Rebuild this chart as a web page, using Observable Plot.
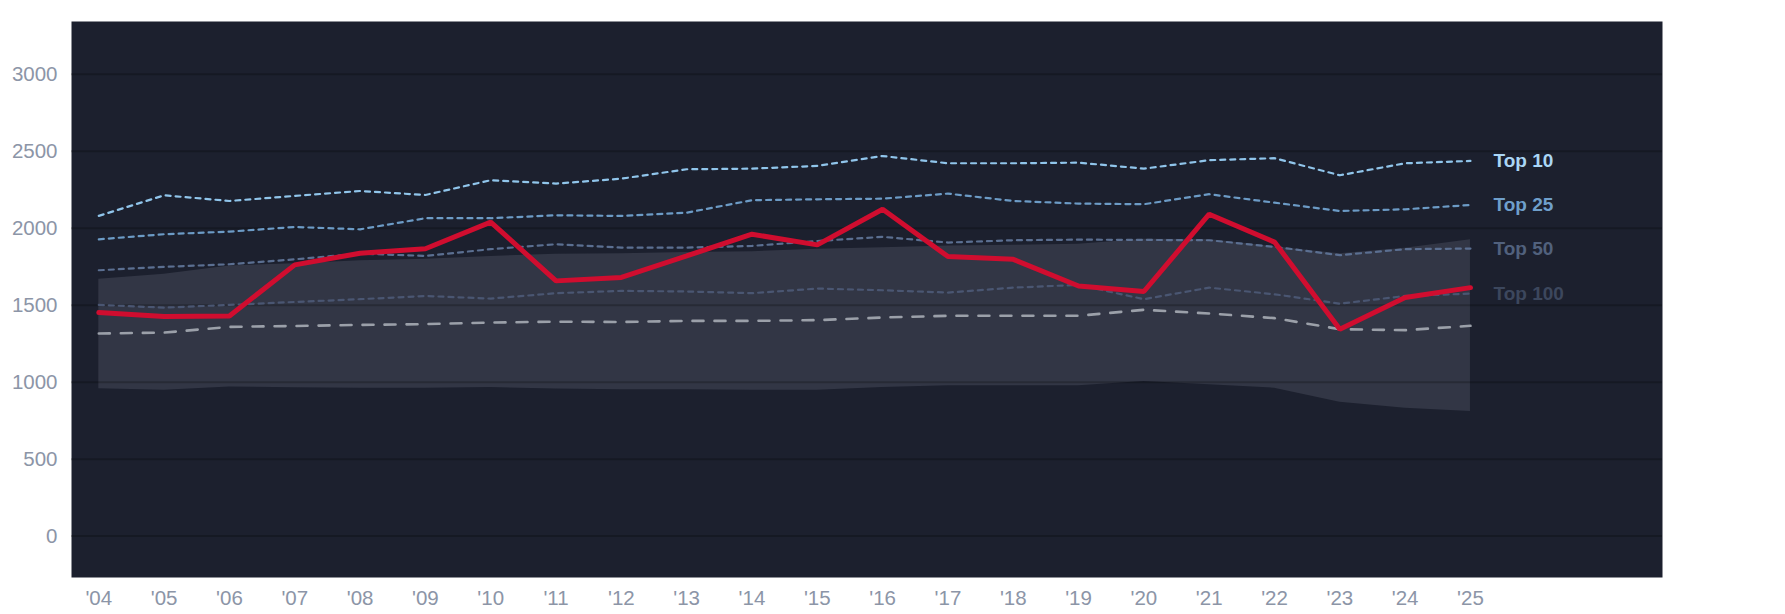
<!DOCTYPE html>
<html>
<head>
<meta charset="utf-8">
<script src="https://cdn.jsdelivr.net/npm/d3@7"></script>
<script src="https://cdn.jsdelivr.net/npm/@observablehq/plot@0.6"></script>
<style>
  html, body { margin: 0; padding: 0; background: #ffffff; }
  #chart svg { display: block; }
</style>
</head>
<body>
<div id="chart"></div>
<script>
const years = [2004,2005,2006,2007,2008,2009,2010,2011,2012,2013,2014,2015,2016,2017,2018,2019,2020,2021,2022,2023,2024,2025];
const top10  = [2080,2214,2177,2210,2242,2216,2312,2290,2322,2383,2387,2405,2469,2422,2422,2426,2387,2442,2455,2344,2422,2437];
const top25  = [1928,1961,1978,2008,1993,2065,2065,2084,2080,2101,2182,2188,2192,2225,2177,2160,2156,2221,2166,2112,2123,2151];
const top50  = [1727,1749,1766,1798,1835,1820,1864,1896,1874,1874,1885,1917,1944,1907,1922,1926,1924,1922,1879,1825,1864,1868];
const top100 = [1502,1484,1502,1521,1539,1560,1543,1578,1593,1589,1578,1608,1597,1582,1614,1632,1539,1614,1571,1510,1560,1575];
const median = [1316,1322,1359,1365,1372,1377,1387,1393,1391,1398,1398,1403,1420,1431,1431,1431,1470,1446,1416,1344,1338,1366];
const team   = [1452,1426,1430,1762,1838,1867,2040,1658,1680,1820,1961,1892,2123,1816,1798,1625,1589,2091,1910,1344,1550,1614];
const bandHigh = [1669,1701,1755,1770,1788,1798,1817,1831,1835,1842,1848,1864,1874,1885,1889,1896,1929,1926,1880,1835,1870,1925];
const bandLow  = [958,948,969,964,961,961,965,955,950,950,948,948,965,976,976,976,1004,983,961,870,831,809];
const yTicks = [0,500,1000,1500,2000,2500,3000];
const tierNames = ["Top 10","Top 25","Top 50","Top 100"];

const rows = years.map((year, i) => ({
  year, top10: top10[i], top25: top25[i], top50: top50[i], top100: top100[i],
  median: median[i], team: team[i], low: bandLow[i], high: bandHigh[i]
}));

const tiers = [
  {key: "top10",  name: tierNames[0], line: "#90c5eb", label: "#aad6f5"},
  {key: "top25",  name: tierNames[1], line: "#6c9bc6", label: "#6f9fcb"},
  {key: "top50",  name: tierNames[2], line: "#5b6f91", label: "#51617d"},
  {key: "top100", name: tierNames[3], line: "#4a5672", label: "#3c475d"}
];
const last = rows[rows.length - 1];
const font = "'Liberation Sans', Arial, Helvetica, sans-serif";

const chart = Plot.plot({
  width: 1785,
  height: 614,
  marginLeft: 71,
  marginRight: 123,
  marginTop: 21,
  marginBottom: 37,
  style: {background: "transparent", fontFamily: font},
  x: {domain: [2003.582, 2027.94], label: null},
  y: {domain: [-269, 3343], label: null},
  marks: [
    Plot.frame({fill: "#1c202e", stroke: "none"}),
    Plot.areaY(rows, {x: "year", y1: "low", y2: "high", fill: "#323645"}),
    Plot.ruleY(yTicks, {stroke: "#000000", strokeOpacity: 0.22, strokeWidth: 2}),
    ...tiers.slice().reverse().map(t =>
      Plot.lineY(rows, {x: "year", y: t.key, stroke: t.line, strokeWidth: 2.2, strokeDasharray: "5,5"})
    ),
    Plot.lineY(rows, {x: "year", y: "median", stroke: "#9ba0a9", strokeWidth: 2.6, strokeDasharray: "11,11"}),
    Plot.lineY(rows, {x: "year", y: "team", stroke: "#d00d2f", strokeWidth: 5, strokeLinejoin: "miter"}),
    ...tiers.map(t =>
      Plot.text([last], {x: "year", y: t.key, text: () => t.name, dx: 23, textAnchor: "start",
        fill: t.label, fontWeight: "bold", fontSize: 19, fontFamily: font})
    ),
    Plot.axisX({ticks: years, tickFormat: d => "'" + String(d).slice(2), tickSize: 0, tickPadding: 13,
      fontSize: 20.5, fill: "#8c95a7", fontFamily: font, label: null}),
    Plot.axisY({ticks: yTicks, tickFormat: d => String(d), tickSize: 0, tickPadding: 14,
      fontSize: 20.5, fill: "#8c95a7", fontFamily: font, label: null})
  ]
});
document.getElementById("chart").appendChild(chart);
</script>
</body>
</html>
